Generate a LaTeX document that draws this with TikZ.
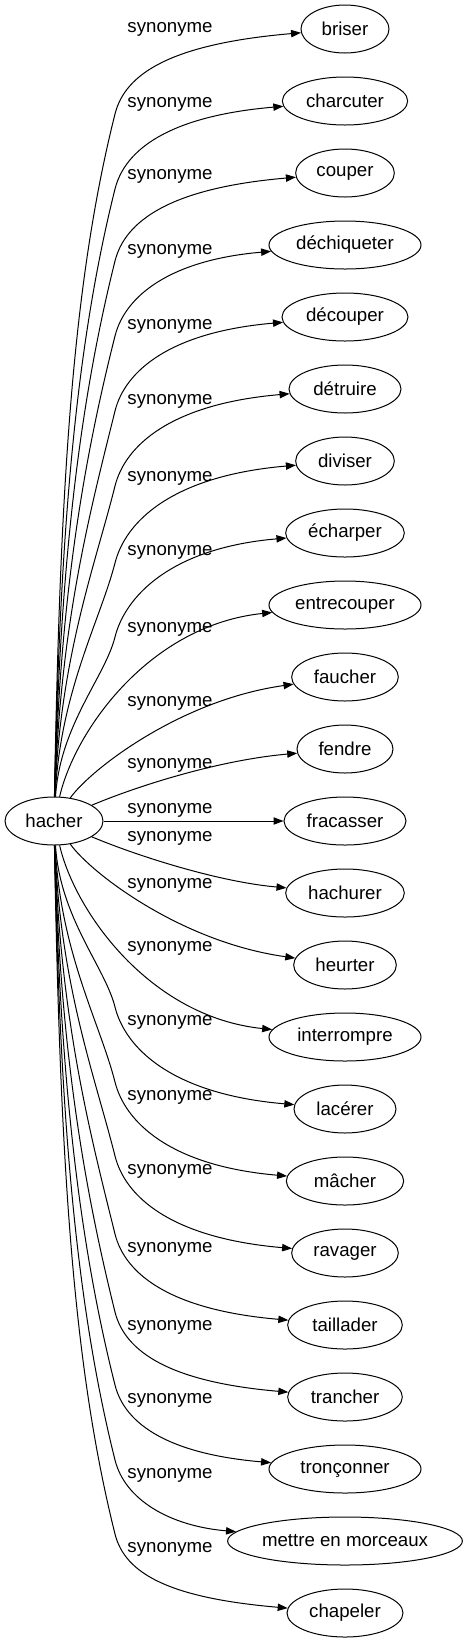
\documentclass[tikz,border=0pt]{standalone}
\usepackage{fontspec}
\setmainfont{Liberation Sans}
\usetikzlibrary{arrows.meta,shapes.geometric}

\begin{document}
\begin{tikzpicture}[x=0.75pt, y=-0.75pt,
  word/.style={draw, ellipse, inner sep=0pt, minimum height=36pt,
               line width=0.75pt, font=\fontsize{14}{16}\selectfont},
  lbl/.style={font=\fontsize{14}{16}\selectfont, inner sep=0pt},
  rel/.style={line width=0.75pt, -{Triangle[length=7.5pt, width=5.5pt]}}
]
  \useasboundingbox (0,0) rectangle (467,1643);

  \node[word, minimum width=73.5pt] (hacher) at (54,821) {hacher};

  % synonyms, right column
  \node[word, minimum width=66pt]   (briser)      at (345,29)   {briser};
  \node[word, minimum width=94pt]   (charcuter)   at (345,101)  {charcuter};
  \node[word, minimum width=74pt]   (couper)      at (345,173)  {couper};
  \node[word, minimum width=114pt]  (dechiqueter) at (345,245)  {déchiqueter};
  \node[word, minimum width=94.5pt] (decouper)    at (345,317)  {découper};
  \node[word, minimum width=84pt]   (detruire)    at (345,389)  {détruire};
  \node[word, minimum width=74pt]   (diviser)     at (345,461)  {diviser};
  \node[word, minimum width=89pt]   (echarper)    at (345,533)  {écharper};
  \node[word, minimum width=114pt]  (entrecouper) at (345,605)  {entrecouper};
  \node[word, minimum width=80pt]   (faucher)     at (345,677)  {faucher};
  \node[word, minimum width=72pt]   (fendre)      at (345,749)  {fendre};
  \node[word, minimum width=91.5pt] (fracasser)   at (345,821)  {fracasser};
  \node[word, minimum width=89pt]   (hachurer)    at (345,893)  {hachurer};
  \node[word, minimum width=77pt]   (heurter)     at (345,965)  {heurter};
  \node[word, minimum width=114pt]  (interrompre) at (345,1037) {interrompre};
  \node[word, minimum width=76.5pt] (lacerer)     at (345,1109) {lacérer};
  \node[word, minimum width=88pt]   (macher)      at (345,1181) {mâcher};
  \node[word, minimum width=80pt]   (ravager)     at (345,1253) {ravager};
  \node[word, minimum width=86pt]   (taillader)   at (345,1325) {taillader};
  \node[word, minimum width=86pt]   (trancher)    at (345,1397) {trancher};
  \node[word, minimum width=114pt]  (tronconner)  at (345,1469) {tronçonner};
  \node[word, minimum width=176pt]  (morceaux)    at (345,1541) {mettre en morceaux};
  \node[word, minimum width=87pt]   (chapeler)    at (345,1613) {chapeler};

  % edge labels
  \node[lbl] (l1)  at (170,29)   {synonyme};
  \node[lbl] (l2)  at (170,104)  {synonyme};
  \node[lbl] (l3)  at (170,176)  {synonyme};
  \node[lbl] (l4)  at (170,251)  {synonyme};
  \node[lbl] (l5)  at (170,326)  {synonyme};
  \node[lbl] (l6)  at (170,401)  {synonyme};
  \node[lbl] (l7)  at (170,478)  {synonyme};
  \node[lbl] (l8)  at (170,552)  {synonyme};
  \node[lbl] (l9)  at (170,629)  {synonyme};
  \node[lbl] (l10) at (170,703)  {synonyme};
  \node[lbl] (l11) at (170,765)  {synonyme};
  \node[lbl] (l12) at (170,810)  {synonyme};
  \node[lbl] (l13) at (170,838)  {synonyme};
  \node[lbl] (l14) at (170,885)  {synonyme};
  \node[lbl] (l15) at (170,948)  {synonyme};
  \node[lbl] (l16) at (170,1022) {synonyme};
  \node[lbl] (l17) at (170,1097) {synonyme};
  \node[lbl] (l18) at (170,1171) {synonyme};
  \node[lbl] (l19) at (170,1249) {synonyme};
  \node[lbl] (l20) at (170,1327) {synonyme};
  \node[lbl] (l21) at (170,1400) {synonyme};
  \node[lbl] (l22) at (170,1475) {synonyme};
  \node[lbl] (l23) at (170,1549) {synonyme};

  % edges going up
  \draw[rel] (hacher) .. controls (60,490) and (72,285) .. (115,114)
                      .. controls (125,74) and (170,44) .. (briser);
  \draw[rel] (hacher) .. controls (60,523) and (77,341) .. (115,189)
                      .. controls (125,149) and (170,116) .. (charcuter);
  \draw[rel] (hacher) .. controls (60,556) and (81.5,395) .. (115,261)
                      .. controls (125,221) and (170,188) .. (couper);
  \draw[rel] (hacher) .. controls (60,590) and (86,451) .. (115,336)
                      .. controls (125,296) and (170,260) .. (dechiqueter);
  \draw[rel] (hacher) .. controls (60,623) and (91,508) .. (115,411)
                      .. controls (125,371) and (170,332) .. (decouper);
  \draw[rel] (hacher) .. controls (60,657) and (95.5,564) .. (115,486)
                      .. controls (125,446) and (170,404) .. (detruire);
  \draw[rel] (hacher) .. controls (60,692) and (100,621) .. (115,563)
                      .. controls (125,523) and (170,476) .. (diviser);
  \draw[rel] (hacher) .. controls (60,725) and (105,677) .. (115,637)
                      .. controls (125,597) and (170,548) .. (echarper);
  \draw[rel] (hacher) .. controls (75,730) and (150,625) .. (entrecouper);
  \draw[rel] (hacher) .. controls (90,770) and (180,700) .. (faucher);
  \draw[rel] (hacher) .. controls (140,785) and (220,760) .. (fendre);

  % straight one
  \draw[rel] (hacher) -- (fracasser);

  % edges going down
  \draw[rel] (hacher) .. controls (140,857) and (220,882) .. (hachurer);
  \draw[rel] (hacher) .. controls (90,872) and (180,942) .. (heurter);
  \draw[rel] (hacher) .. controls (75,912) and (150,1017) .. (interrompre);
  \draw[rel] (hacher) .. controls (60,918) and (105,967) .. (115,1007)
                      .. controls (125,1047) and (170,1094) .. (lacerer);
  \draw[rel] (hacher) .. controls (60,952) and (100,1023) .. (115,1082)
                      .. controls (125,1122) and (170,1166) .. (macher);
  \draw[rel] (hacher) .. controls (60,985) and (95.5,1078) .. (115,1156)
                      .. controls (125,1196) and (170,1238) .. (ravager);
  \draw[rel] (hacher) .. controls (60,1020) and (91,1137) .. (115,1234)
                      .. controls (125,1274) and (170,1310) .. (taillader);
  \draw[rel] (hacher) .. controls (60,1055) and (86,1195) .. (115,1312)
                      .. controls (125,1352) and (170,1382) .. (trancher);
  \draw[rel] (hacher) .. controls (60,1088) and (81,1250) .. (115,1385)
                      .. controls (125,1425) and (170,1454) .. (tronconner);
  \draw[rel] (hacher) .. controls (60,1122) and (76.5,1306) .. (115,1460)
                      .. controls (125,1500) and (170,1526) .. (morceaux);
  \draw[rel] (hacher) .. controls (60,1155) and (72,1362) .. (115,1534)
                      .. controls (125,1574) and (170,1598) .. (chapeler);
\end{tikzpicture}
\end{document}
